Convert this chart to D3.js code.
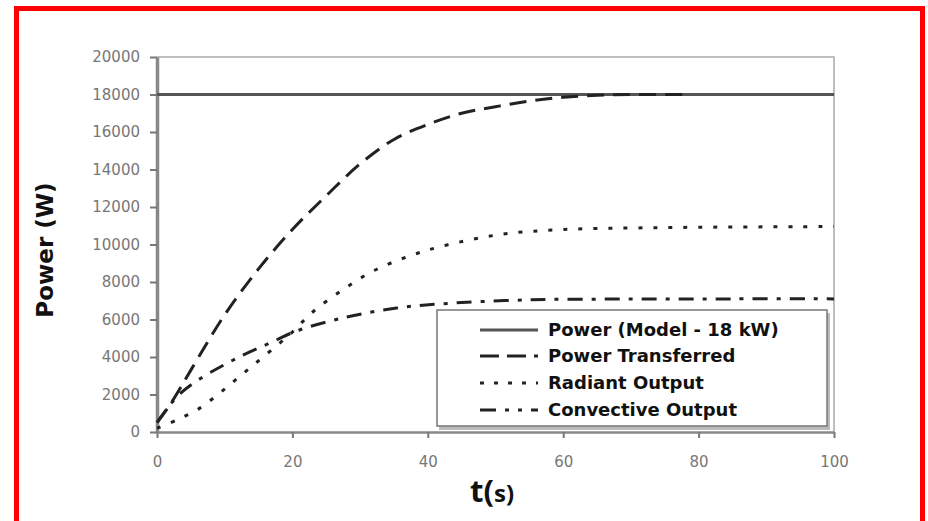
<!DOCTYPE html>
<html>
<head>
<meta charset="utf-8">
<script src="https://cdn.jsdelivr.net/npm/d3@7"></script>
<style>
  body { margin: 0; background: #fff; }
  svg { display: block; }
</style>
</head>
<body>
<div id="chart"></div>
<script>
var width = 928;
var height = 521;

// data
var xTicks = [0, 20, 40, 60, 80, 100];
var yTicks = [0, 2000, 4000, 6000, 8000, 10000, 12000, 14000, 16000, 18000, 20000];

var power_model = [[0, 18000], [100, 18000]];
var power_transferred = [[0, 500], [2, 1500], [5, 3300], [10, 6250], [15, 8700], [20, 10800], [25, 12600],
    [30, 14300], [35, 15600], [40, 16400], [45, 17000], [50, 17350], [55, 17650], [60, 17850],
    [65, 17960], [70, 18000], [78, 18000]];
var radiant = [[0, 200], [3, 650], [6, 1200], [9, 2000], [12, 2900], [15, 3800], [18, 4700],
    [20, 5330], [23, 6400], [27.5, 7600], [32, 8600], [37.4, 9400], [42.8, 9970], [51, 10550],
    [60, 10800], [70, 10880], [80, 10920], [95, 10950], [100, 10960]];
var convective = [[0, 500], [3, 1900], [6.4, 2850], [12.7, 4100], [16.7, 4750], [20.7, 5400], [28, 6130],
    [35.4, 6610], [41.8, 6830], [55, 7050], [70, 7090], [85, 7100], [100, 7100]];

var series_names = ["Power (Model - 18 kW)", "Power Transferred", "Radiant Output", "Convective Output"];

var svg = d3.select("#chart").append("svg").attr("width", width).attr("height", height);

// red frame round everything
svg.append("rect").attr("x", 16.5).attr("y", 8.5).attr("width", 906).attr("height", 530)
   .attr("fill", "none").attr("stroke", "#ff0000").attr("stroke-width", 5);

var x = d3.scaleLinear().domain([0, 100]).range([157, 834]);
var y = d3.scaleLinear().domain([0, 20000]).range([432, 57]);

// plot border (top and right)
svg.append("path")
   .attr("d", `M${x(0)},${y(20000)}H${x(100)}V${y(0)}`)
   .attr("fill", "none").attr("stroke", "#aaa").attr("stroke-width", 1.5);

var xAxis = svg.append("g").attr("transform", `translate(0,${y(0)})`)
   .call(d3.axisBottom(x).tickValues(xTicks).tickFormat(d3.format("d")).tickSize(6).tickPadding(18).tickSizeOuter(0));
var yAxis = svg.append("g").attr("transform", `translate(${x(0)},0)`)
   .call(d3.axisLeft(y).tickValues(yTicks).tickFormat(d3.format("d")).tickSize(7).tickPadding(10).tickSizeOuter(0));

[xAxis, yAxis].forEach(function(ax) {
    ax.select(".domain").attr("stroke", "#888").attr("stroke-width", 2.5);
    ax.selectAll(".tick line").attr("stroke", "#777").attr("stroke-width", 2);
    ax.selectAll(".tick text").attr("fill", "#777")
      .style("font-family", "'DejaVu Sans', Verdana, sans-serif").style("font-size", "15px");
});
yAxis.select(".domain").attr("stroke-width", 3.5);

var line = d3.line().x(d => x(d[0])).y(d => y(d[1])).curve(d3.curveCatmullRom);

var styles = [
    {data: power_model, stroke: "#555", width: 3, dash: null},
    {data: power_transferred, stroke: "#222", width: 3, dash: "17,9"},
    {data: radiant, stroke: "#222", width: 3, dash: "4,11"},
    {data: convective, stroke: "#222", width: 3, dash: "15,9,4,9"}
];

var plot = svg.append("g").attr("class", "lines");
styles.forEach(function(s) {
    plot.append("path")
        .attr("d", line(s.data))
        .attr("fill", "none")
        .attr("stroke", s.stroke)
        .attr("stroke-width", s.width)
        .attr("stroke-dasharray", s.dash);
});

// legend
var lg = svg.append("g").attr("class", "legend");
lg.append("rect").attr("x", 439).attr("y", 313).attr("width", 391).attr("height", 117).attr("fill", "#bbb");
lg.append("rect").attr("x", 437).attr("y", 310).attr("width", 390).attr("height", 116)
  .attr("fill", "#fff").attr("stroke", "#777").attr("stroke-width", 1.5);

var rowY = [330, 356, 383, 410];
styles.forEach(function(s, i) {
    lg.append("line")
      .attr("x1", 480).attr("x2", 538).attr("y1", rowY[i]).attr("y2", rowY[i])
      .attr("stroke", s.stroke).attr("stroke-width", s.width)
      .attr("stroke-dasharray", i == 0 ? null : (i == 1 ? "19,8" : (i == 2 ? "4,10" : "16,9,4,9,4,9")));
    lg.append("text")
      .attr("x", 548).attr("y", rowY[i]).attr("dy", "0.36em")
      .text(series_names[i])
      .style("font-family", "'DejaVu Sans', Verdana, sans-serif")
      .style("font-weight", "bold").style("font-size", "18px")
      .attr("fill", "#111");
});

// axis titles
svg.append("text")
   .attr("transform", "translate(53,250) rotate(-90)")
   .attr("text-anchor", "middle")
   .text("Power (W)")
   .style("font-family", "'DejaVu Sans', Verdana, sans-serif")
   .style("font-weight", "bold").style("font-size", "23px")
   .attr("fill", "#111");

var xt = svg.append("text")
   .attr("x", 492).attr("y", 502)
   .attr("text-anchor", "middle")
   .style("font-family", "'Open Sans', sans-serif")
   .style("font-weight", "bold")
   .attr("fill", "#111");
xt.append("tspan").style("font-size", "31px").text("t(");
xt.append("tspan").style("font-size", "24px").text("s)");
</script>
</body>
</html>
